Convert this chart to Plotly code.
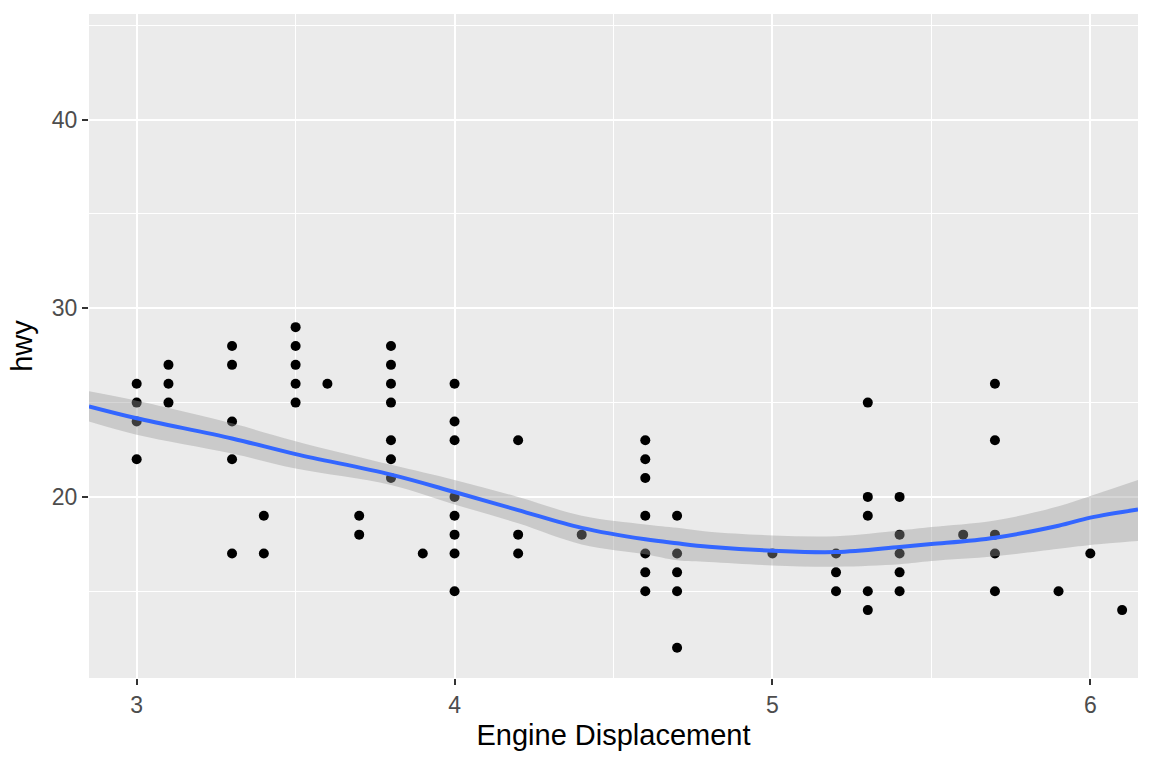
import plotly.graph_objects as go

# Scatter data (displ, hwy)
displ = [3.0, 3.0, 3.0, 3.0,
         3.1, 3.1, 3.1,
         3.3, 3.3, 3.3, 3.3, 3.3,
         3.4, 3.4,
         3.5, 3.5, 3.5, 3.5, 3.5,
         3.6,
         3.7, 3.7,
         3.8, 3.8, 3.8, 3.8, 3.8, 3.8, 3.8,
         3.9,
         4.0, 4.0, 4.0, 4.0, 4.0, 4.0, 4.0, 4.0,
         4.2, 4.2, 4.2,
         4.4,
         4.6, 4.6, 4.6, 4.6, 4.6, 4.6, 4.6,
         4.7, 4.7, 4.7, 4.7, 4.7,
         5.0,
         5.2, 5.2, 5.2,
         5.3, 5.3, 5.3, 5.3, 5.3,
         5.4, 5.4, 5.4, 5.4, 5.4,
         5.6,
         5.7, 5.7, 5.7, 5.7, 5.7,
         5.9,
         6.0,
         6.1]
hwy = [26, 25, 24, 22,
       27, 26, 25,
       28, 27, 24, 22, 17,
       19, 17,
       29, 28, 27, 26, 25,
       26,
       19, 18,
       28, 27, 26, 25, 23, 22, 21,
       17,
       26, 24, 23, 20, 19, 18, 17, 15,
       23, 18, 17,
       18,
       23, 22, 21, 19, 17, 16, 15,
       19, 17, 16, 15, 12,
       17,
       17, 16, 15,
       25, 20, 19, 15, 14,
       20, 18, 17, 16, 15,
       18,
       26, 23, 18, 17, 15,
       15,
       17,
       14]

# Smoothed fit and its confidence band
smooth_x = [2.85, 3.0, 3.3, 3.5, 3.8, 4.0, 4.2, 4.4, 4.6, 4.7, 4.8, 5.0,
            5.2, 5.4, 5.5, 5.7, 5.9, 6.0, 6.15]
smooth_y = [24.8, 24.17, 23.1, 22.27, 21.18, 20.26, 19.3, 18.36, 17.75, 17.54,
            17.36, 17.15, 17.08, 17.35, 17.5, 17.84, 18.47, 18.9, 19.33]
band_hi = [25.6, 25.1, 23.9, 22.95, 21.7, 20.9, 20.0, 19.0, 18.54, 18.36,
           18.15, 17.96, 17.92, 18.22, 18.4, 18.75, 19.5, 20.05, 20.9]
band_lo = [24.0, 23.3, 22.3, 21.5, 20.63, 19.6, 18.6, 17.48, 16.96, 16.64,
           16.55, 16.37, 16.3, 16.43, 16.6, 16.85, 17.25, 17.45, 17.66]

x_ticks = [3, 4, 5, 6]
y_ticks = [20, 30, 40]

FONT = "Liberation Sans, Arial, sans-serif"

fig = go.Figure()

fig.add_trace(go.Scatter(
    x=displ, y=hwy, mode="markers",
    marker=dict(color="black", size=10, line=dict(width=0)),
    showlegend=False, hoverinfo="x+y"))

fig.add_trace(go.Scatter(
    x=smooth_x, y=band_lo, mode="lines",
    line=dict(width=0, shape="spline", color="rgba(0,0,0,0)"),
    showlegend=False, hoverinfo="skip"))
fig.add_trace(go.Scatter(
    x=smooth_x, y=band_hi, mode="lines", fill="tonexty",
    fillcolor="rgba(153,153,153,0.4)",
    line=dict(width=0, shape="spline", color="rgba(0,0,0,0)"),
    showlegend=False, hoverinfo="skip"))

fig.add_trace(go.Scatter(
    x=smooth_x, y=smooth_y, mode="lines",
    line=dict(color="#3366FF", width=4, shape="spline"),
    showlegend=False))

axis_common = dict(
    showgrid=True, gridcolor="white", gridwidth=2,
    zeroline=False, showline=False,
    ticks="outside", ticklen=6, tickwidth=2, tickcolor="#333333",
    tickfont=dict(family=FONT, size=23, color="#4D4D4D"),
)

fig.update_layout(
    width=1152, height=768,
    margin=dict(l=89, r=14, t=14, b=90),
    paper_bgcolor="white", plot_bgcolor="#EBEBEB",
    font=dict(family=FONT),
    xaxis=dict(
        range=[2.85, 6.15], tickvals=x_ticks, ticktext=[str(v) for v in x_ticks],
        minor=dict(tickvals=[3.5, 4.5, 5.5], showgrid=True, gridcolor="white",
                   gridwidth=1, ticks=""),
        title=dict(text="Engine Displacement",
                   font=dict(family=FONT, size=29, color="black"), standoff=8),
        **axis_common),
    yaxis=dict(
        range=[10.4, 45.6], tickvals=y_ticks, ticktext=[str(v) for v in y_ticks],
        minor=dict(tickvals=[15, 25, 35, 45], showgrid=True, gridcolor="white",
                   gridwidth=1, ticks=""),
        title=dict(text="hwy", font=dict(family=FONT, size=29, color="black"),
                   standoff=10),
        **axis_common),
)

fig.write_html("out.html")
